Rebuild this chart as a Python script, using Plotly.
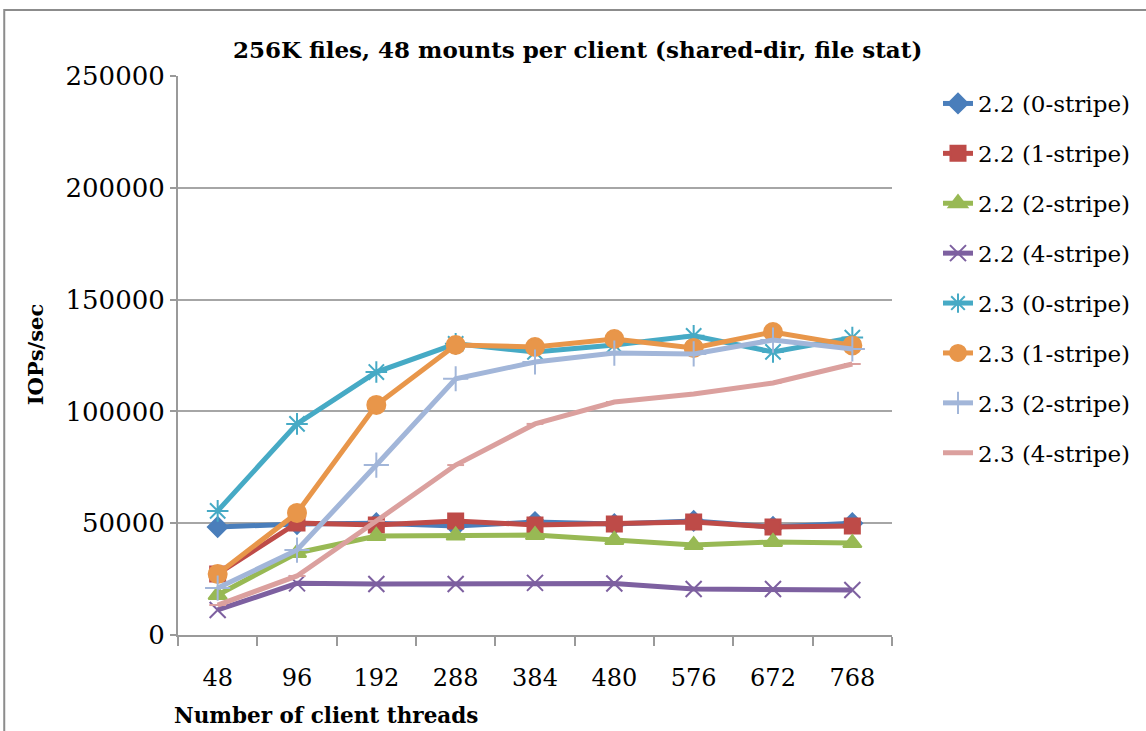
import plotly.graph_objects as go

categories = ["48", "96", "192", "288", "384", "480", "576", "672", "768"]

s22_0 = [48300, 49600, 50000, 48700, 50500, 49600, 51000, 48300, 50000]
s22_1 = [27300, 50100, 49200, 51000, 49200, 49600, 50500, 48300, 48700]
s22_2 = [17900, 36700, 44300, 44500, 44700, 42500, 40200, 41600, 41100]
s22_4 = [11200, 23100, 22800, 22800, 23300, 23000, 20600, 20600, 20100]
s23_0 = [55500, 94400, 117600, 130200, 126600, 129700, 133800, 126600, 133000]
s23_1 = [27300, 54600, 102900, 129700, 128800, 132400, 128400, 135500, 129500]
s23_2 = [21000, 38000, 76000, 114600, 122100, 126100, 125700, 131900, 127900]
s23_4 = [13400, 26400, 51000, 76000, 94400, 104200, 107800, 112700, 121200]

names = ["2.2 (0-stripe)", "2.2 (1-stripe)", "2.2 (2-stripe)", "2.2 (4-stripe)",
         "2.3 (0-stripe)", "2.3 (1-stripe)", "2.3 (2-stripe)", "2.3 (4-stripe)"]
series = [s22_0, s22_1, s22_2, s22_4, s23_0, s23_1, s23_2, s23_4]
colors = ["#4A7EBB", "#BE4B48", "#98B954", "#7D60A0", "#46AAC5", "#E8964A", "#A2B6D9", "#DBA09E"]
symbols = ["diamond", "square", "triangle-up", "x-thin-open", "asterisk-open", "circle",
           "cross-thin-open", "line-ew-open"]
sizes = [15, 15, 16, 16, 18, 18, 18, 12]

FONT = "DejaVu Serif"

fig = go.Figure()
for i, (n, s) in enumerate(zip(names, series)):
    fig.add_trace(go.Scatter(
        x=categories, y=s, name=n, mode="lines+markers",
        legendgroup=f"g{i}",
        line=dict(color=colors[i], width=5),
        marker=dict(symbol=symbols[i], size=sizes[i], color=colors[i],
                    line=dict(color=colors[i], width=2)),
    ))

W, H = 1146, 731
L, R, T, B = 178, 893, 76, 635

def px_x(px):
    return (px - L) / (R - L)

def px_y(py):
    return (B - py) / (B - T)

fig.update_layout(
    width=W, height=H,
    margin=dict(l=L, r=W - R, t=T, b=H - B),
    paper_bgcolor="white", plot_bgcolor="white",
    font=dict(family=FONT, size=23, color="black"),
    showlegend=True,
    legend=dict(x=px_x(938), y=px_y(82), xanchor="left", yanchor="top",
                font=dict(family=FONT, size=23, color="black"),
                tracegroupgap=17, bgcolor="rgba(0,0,0,0)"),
    xaxis=dict(type="category", range=[-0.5, 8.5], showgrid=False, showline=True,
               linecolor="#9A9A9A", linewidth=2, ticks="outside", tickson="boundaries",
               ticklen=9, tickcolor="#9A9A9A", tickwidth=1.5, ticklabelstandoff=20,
               tickfont=dict(family=FONT, size=24), zeroline=False, fixedrange=True),
    yaxis=dict(range=[0, 250000], dtick=50000, showgrid=True, gridcolor="#A6A6A6",
               gridwidth=2, showline=True, linecolor="#9A9A9A", linewidth=2,
               ticks="outside", ticklen=6, tickcolor="#9A9A9A", tickwidth=1.5,
               tickfont=dict(family=FONT, size=26), tickformat="d",
               zeroline=False, fixedrange=True),
    annotations=[
        dict(text="<b>256K files, 48 mounts per client (shared-dir, file stat)</b>",
             xref="paper", yref="paper", x=px_x(578), y=px_y(50), xanchor="center",
             yanchor="middle", showarrow=False, font=dict(family=FONT, size=23)),
        dict(text="<b>Number of client threads</b>", xref="paper", yref="paper",
             x=px_x(172), y=px_y(715), xanchor="left", yanchor="middle",
             showarrow=False, font=dict(family=FONT, size=21.5)),
        dict(text="<b>IOPs/sec</b>", xref="paper", yref="paper", x=px_x(35),
             y=px_y(355), xanchor="center", yanchor="middle", textangle=-90,
             showarrow=False, font=dict(family=FONT, size=21)),
    ],
    shapes=[dict(type="rect", xref="paper", yref="paper", x0=px_x(4), y0=px_y(760),
                 x1=px_x(1160), y1=px_y(10), line=dict(color="#8C8C8C", width=2),
                 fillcolor="rgba(0,0,0,0)", layer="below")],
)

fig.write_html("out.html", config={"displayModeBar": False},
               post_script="document.body.style.margin='0';")
